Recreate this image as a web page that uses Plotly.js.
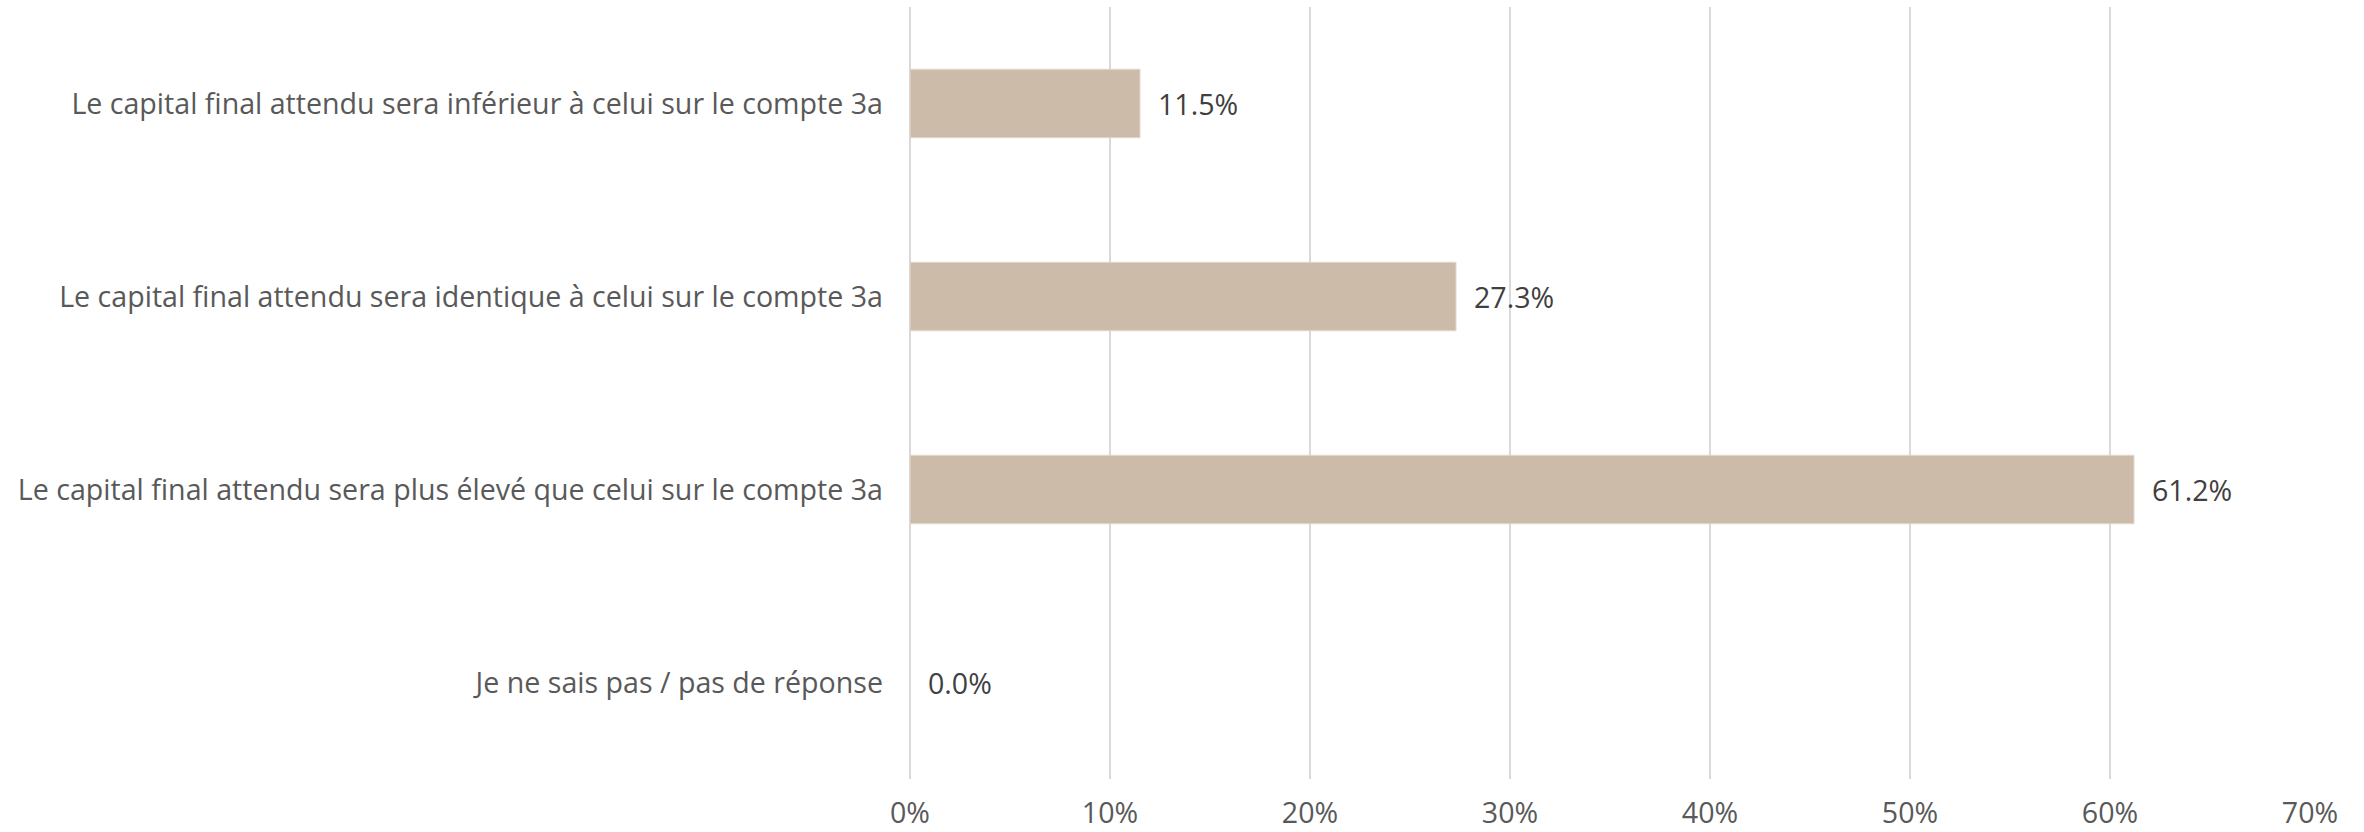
<!DOCTYPE html>
<html>
<head>
<meta charset="utf-8">
<script src="https://cdn.plot.ly/plotly-3.0.1.min.js"></script>
<style>
html,body{margin:0;padding:0;background:#fff;}
#chart{width:2364px;height:832px;}
</style>
</head>
<body>
<div id="chart"></div>
<script>
const categories = [
  "Le capital final attendu sera inférieur à celui sur le compte 3a",
  "Le capital final attendu sera identique à celui sur le compte 3a",
  "Le capital final attendu sera plus élevé que celui sur le compte 3a",
  "Je ne sais pas / pas de réponse"
];
const values = [11.5, 27.3, 61.2, 0.0];
const tickValues = [0, 10, 20, 30, 40, 50, 60, 70];
const tickLabels = ["0%", "10%", "20%", "30%", "40%", "50%", "60%", "70%"];

const FONT = "Open Sans, Noto Sans, sans-serif";

const trace = {
  type: "bar",
  orientation: "h",
  y: categories,
  x: values,
  marker: {color: "#CDBBA9", line: {color: "#E3D8CD", width: 1}},
  hoverinfo: "skip",
  showlegend: false
};

const annotations = categories.map((c, i) => ({
  x: values[i],
  y: c,
  xref: "x",
  yref: "y",
  text: values[i].toFixed(1) + "%",
  showarrow: false,
  xanchor: "left",
  yanchor: "middle",
  xshift: 16,
  font: {family: FONT, size: 28.6, color: "#404040"}
}));

const layout = {
  width: 2364,
  height: 832,
  paper_bgcolor: "#ffffff",
  plot_bgcolor: "#ffffff",
  margin: {l: 910, r: 54, t: 7, b: 53, pad: 0},
  bargap: 0.645,
  font: {family: FONT, size: 28.6, color: "#595959"},
  xaxis: {
    range: [0, 70],
    tickmode: "array",
    tickvals: tickValues,
    ticktext: tickLabels,
    showgrid: true,
    gridcolor: "#D9D9D9",
    gridwidth: 1.5,
    zeroline: true,
    zerolinecolor: "#D9D9D9",
    zerolinewidth: 1.5,
    showline: false,
    ticks: "",
    ticklabelstandoff: 14,
    tickfont: {family: FONT, size: 28.6, color: "#595959"},
    fixedrange: true
  },
  yaxis: {
    type: "category",
    categoryorder: "array",
    categoryarray: categories,
    autorange: "reversed",
    showgrid: false,
    zeroline: false,
    showline: false,
    ticks: "",
    ticklabelstandoff: 26,
    tickfont: {family: FONT, size: 28.6, color: "#595959"},
    fixedrange: true
  },
  annotations: annotations
};

Plotly.newPlot("chart", [trace], layout, {displayModeBar: false, staticPlot: true});
</script>
</body>
</html>
